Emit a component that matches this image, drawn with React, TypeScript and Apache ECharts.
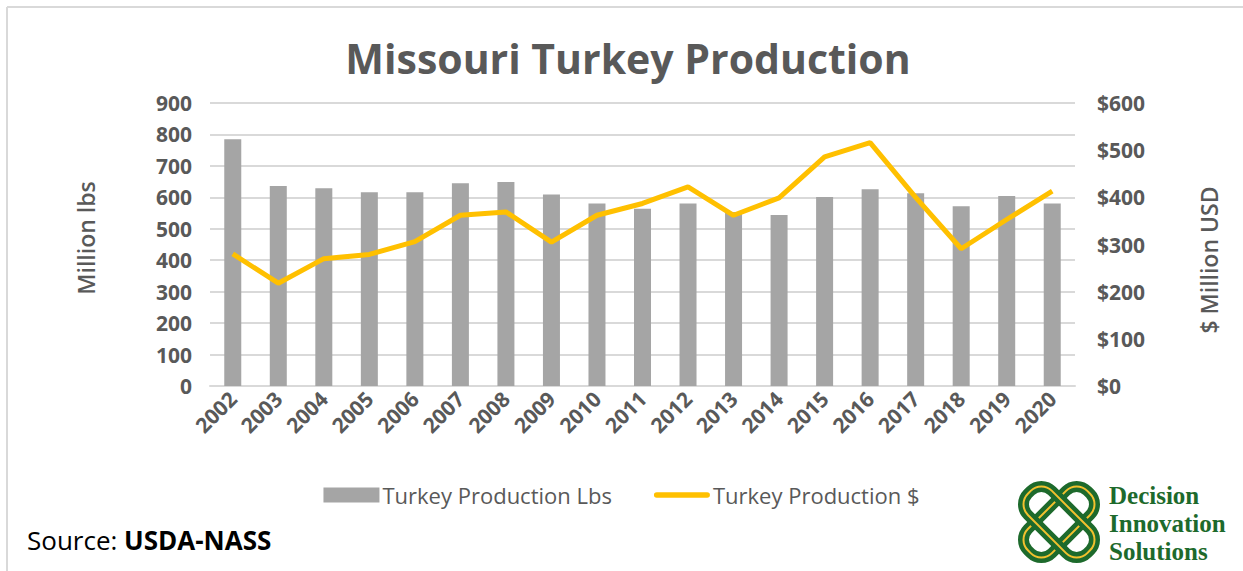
import React, { useEffect, useRef } from "react";
import * as echarts from "echarts";

const years = ["2002","2003","2004","2005","2006","2007","2008","2009","2010","2011","2012","2013","2014","2015","2016","2017","2018","2019","2020"];
const productionLbs = [785, 636, 629, 616, 616, 645, 649, 609, 580, 564, 580, 553, 544, 601, 626, 613, 572, 604, 580];
const productionUsd = [280, 218, 270, 279, 306, 362, 369, 305, 362, 387, 422, 362, 399, 486, 516, 400, 291, 353, 413];
const leftTicks = { min: 0, max: 900, interval: 100 };
const rightTicks = { min: 0, max: 600, interval: 100 };

const TEXT = "#595959";
const GREEN = "#1d6a2c";
const YELLOW = "#f2c12e";

function loop(cx: number, cy: number, rot: number) {
  const L = 84, T = 34;
  const shape = { x: -L / 2, y: -T / 2, width: L, height: T, r: 15 };
  return {
    type: "group",
    x: cx,
    y: cy,
    rotation: rot,
    children: [
      { type: "rect", shape, style: { fill: "none", stroke: GREEN, lineWidth: 11 } },
      { type: "rect", shape, style: { fill: "none", stroke: YELLOW, lineWidth: 2 } },
    ],
  };
}

export default function App() {
  const ref = useRef<HTMLDivElement>(null);
  useEffect(() => {
    const chart = echarts.init(ref.current!, undefined, { renderer: "svg" });
    const font = "'Open Sans', sans-serif";
    chart.setOption({
      animation: false,
      backgroundColor: "#ffffff",
      textStyle: { fontFamily: font },
      grid: { left: 210, right: 168, top: 103, bottom: 185 },
      legend: {
        top: 479,
        left: "center",
        itemWidth: 56,
        itemHeight: 15,
        itemGap: 42,
        textStyle: { color: TEXT, fontSize: 22, fontFamily: font, padding: [0, 0, 0, -2] },
        data: [
          { name: "Turkey Production Lbs", icon: "rect" },
          { name: "Turkey Production $", icon: "path://M3,0 H57 A3,3 0 0 1 57,6 H3 A3,3 0 0 1 3,0 Z" },
        ],
      },
      xAxis: {
        type: "category",
        data: years,
        axisLine: { lineStyle: { color: "#d9d9d9", width: 2 } },
        axisTick: { show: false },
        axisLabel: { rotate: 45, color: TEXT, fontWeight: "bold", fontSize: 21, margin: 9, interval: 0 },
      },
      yAxis: [
        {
          type: "value",
          ...leftTicks,
          axisLine: { show: false },
          axisTick: { show: false },
          splitLine: { lineStyle: { color: "#d9d9d9", width: 2 } },
          axisLabel: { color: TEXT, fontWeight: "bold", fontSize: 21, margin: 18 },
        },
        {
          type: "value",
          ...rightTicks,
          axisLine: { show: false },
          axisTick: { show: false },
          splitLine: { show: false },
          axisLabel: { color: TEXT, fontWeight: "bold", fontSize: 21, margin: 22, formatter: "${value}" },
        },
      ],
      series: [
        {
          name: "Turkey Production Lbs",
          type: "bar",
          data: productionLbs,
          barWidth: 17,
          itemStyle: { color: "#a5a5a5" },
        },
        {
          name: "Turkey Production $",
          type: "line",
          yAxisIndex: 1,
          data: productionUsd,
          symbol: "none",
          lineStyle: { color: "#ffc000", width: 5 },
          itemStyle: { color: "#ffc000" },
        },
      ],
      graphic: [
        { type: "line", shape: { x1: 7, y1: 7, x2: 1243, y2: 7 }, style: { stroke: "#d9d9d9", lineWidth: 2 } },
        { type: "line", shape: { x1: 7, y1: 7, x2: 7, y2: 571 }, style: { stroke: "#d9d9d9", lineWidth: 2 } },
        {
          type: "text",
          x: 628,
          y: 58,
          style: { text: "Missouri Turkey Production", fill: TEXT, font: `bold 41px ${font}`, align: "center", verticalAlign: "middle" },
        },
        {
          type: "text",
          x: 86,
          y: 238,
          rotation: Math.PI / 2,
          style: { text: "Million lbs", fill: TEXT, font: `600 23px ${font}`, align: "center", verticalAlign: "middle" },
        },
        {
          type: "text",
          x: 1209,
          y: 260,
          rotation: Math.PI / 2,
          style: { text: "$ Million USD", fill: TEXT, font: `600 23px ${font}`, align: "center", verticalAlign: "middle" },
        },
        {
          type: "text",
          x: 27,
          y: 540,
          style: {
            text: "{a|Source: }{b|USDA-NASS}",
            verticalAlign: "middle",
            rich: {
              a: { fill: "#000", fontSize: 26, fontFamily: font },
              b: { fill: "#000", fontWeight: "bold", fontSize: 26, fontFamily: font },
            },
          },
        },
        loop(1059, 522, Math.PI / 4),
        loop(1059, 522, -Math.PI / 4),
        {
          type: "text",
          x: 1109,
          y: 495,
          style: { text: "Decision", fill: GREEN, font: "bold 25px 'Liberation Serif', serif", verticalAlign: "middle" },
        },
        {
          type: "text",
          x: 1109,
          y: 523,
          style: { text: "Innovation", fill: GREEN, font: "bold 25px 'Liberation Serif', serif", verticalAlign: "middle" },
        },
        {
          type: "text",
          x: 1109,
          y: 551,
          style: { text: "Solutions", fill: GREEN, font: "bold 25px 'Liberation Serif', serif", verticalAlign: "middle" },
        },
      ],
    });
    return () => chart.dispose();
  }, []);
  return <div ref={ref} style={{ position: "absolute", left: 0, top: 0, width: 1243, height: 571 }} />;
}
